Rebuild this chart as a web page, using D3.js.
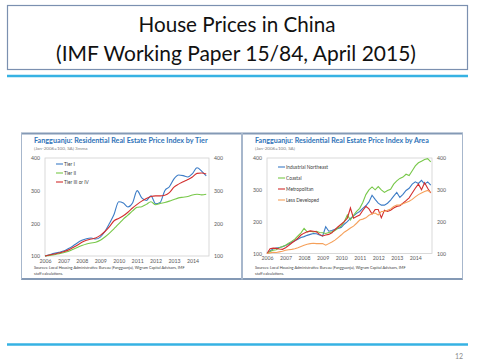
<!DOCTYPE html>
<html>
<head>
<meta charset="utf-8">
<script src="https://cdn.jsdelivr.net/npm/d3@7"></script>
<style>
  body { margin: 0; background: #fff; }
  svg { display: block; }
</style>
</head>
<body>
<div id="chart-area"></div>
<script>
// values
const years = [2006, 2007, 2008, 2009, 2010, 2011, 2012, 2013, 2014];
const yTicks = [100, 200, 300, 400];

// by tier: quarterly, starting Jan 2006
const tierStart = 2006;
const tierStep = 0.25;
const tierNames = ['Tier I', 'Tier II', 'Tier III or IV'];
const tier1 = [100, 104, 108, 111, 115, 122, 130, 140, 148, 153, 155, 152,
  158, 175, 200, 228, 266, 262, 250, 262, 300, 278, 270, 284,
  260, 264, 300, 312, 336, 348, 346, 342, 352, 370, 360, 345];
const tier2 = [100, 102, 104, 107, 110, 114, 120, 126, 132, 137, 140, 142,
  148, 158, 170, 184, 198, 213, 225, 238, 249, 251, 258, 266,
  257, 261, 264, 268, 273, 278, 280, 282, 287, 289, 287, 289];
const tier3 = [100, 103, 106, 109, 113, 118, 125, 133, 142, 148, 152, 155,
  163, 175, 190, 208, 215, 223, 234, 247, 258, 268, 276, 282,
  284, 284, 286, 294, 311, 320, 327, 334, 342, 353, 354, 351];

// by area: every two months, starting Jan 2006
const areaStart = 2006;
const areaStep = 1 / 6;
const areaNames = ['Industrial Northeast', 'Coastal', 'Metropolitan', 'Less Developed'];
const northeast = [100, 108, 115, 117, 119, 121, 125, 130, 135, 140, 145, 150,
  153, 157, 160, 163, 162, 158, 155, 184, 170, 172, 176, 179,
  182, 192, 200, 210, 218, 226, 232, 242, 250, 262, 283, 270,
  258, 252, 252, 258, 268, 280, 292, 276, 286, 298, 305, 318,
  325, 320, 330, 318, 325, 315];
const coastal = [100, 106, 110, 112, 118, 122, 126, 132, 138, 145, 155, 165,
  179, 168, 170, 168, 170, 166, 165, 163, 166, 168, 172, 180,
  186, 200, 221, 205, 220, 232, 242, 260, 285, 300, 309, 300,
  310, 300, 292, 298, 302, 318, 328, 336, 340, 349, 345, 360,
  375, 385, 390, 395, 398, 388];
const metro = [100, 115, 117, 116, 114, 113, 118, 125, 133, 140, 148, 158,
  164, 168, 171, 170, 168, 160, 155, 158, 160, 165, 175, 184,
  192, 200, 211, 243, 211, 216, 221, 235, 248, 240, 224, 238,
  238, 212, 236, 232, 236, 243, 248, 250, 258, 266, 275, 290,
  305, 318, 300, 322, 305, 290];
const lessDev = [100, 102, 104, 103, 105, 107, 110, 112, 113, 115, 118, 122,
  126, 129, 131, 132, 131, 131, 131, 126, 131, 136, 142, 150,
  158, 167, 173, 180, 186, 195, 205, 208, 212, 220, 225, 227,
  221, 232, 232, 236, 240, 248, 252, 253, 256, 260, 264, 270,
  278, 285, 290, 295, 298, 292];

const blue = '#3c7cc6';
const green = '#78c84a';
const red = '#d22f2f';
const orange = '#f5a05a';
const font = 'Lato, "Open Sans", sans-serif';

const svg = d3.select('#chart-area')
  .append('svg')
  .attr('width', 480)
  .attr('height', 363);

// squeeze a text to a given width
const fitText = (sel, width) => {
  const len = sel.node().getComputedTextLength();
  const size = parseFloat(sel.attr('font-size'));
  sel.attr('font-size', size * width / len);
};

// slide title
svg.append('rect')
  .attr('x', 7.5).attr('y', 5.5)
  .attr('width', 460).attr('height', 64)
  .attr('fill', 'none')
  .attr('stroke', '#7b90b0')
  .attr('stroke-width', 1.2);

fitText(svg.append('text')
  .attr('x', 237).attr('y', 32)
  .attr('text-anchor', 'middle')
  .attr('font-family', font).attr('font-size', 21)
  .attr('fill', '#111')
  .text('House Prices in China'), 197);

fitText(svg.append('text')
  .attr('x', 236).attr('y', 61)
  .attr('text-anchor', 'middle')
  .attr('font-family', font).attr('font-size', 21)
  .attr('fill', '#111')
  .text('(IMF Working Paper 15/84, April 2015)'), 360);

[76, 344.5].forEach((y) => {
  svg.append('line')
    .attr('x1', 7).attr('x2', 468)
    .attr('y1', y).attr('y2', y)
    .attr('stroke', '#36b2e3')
    .attr('stroke-width', 2.5);
});

svg.append('text')
  .attr('x', 459).attr('y', 359)
  .attr('text-anchor', 'middle')
  .attr('font-family', font).attr('font-size', 7)
  .attr('fill', '#8c8c8c')
  .text('12');

const drawChart = (c) => {
  const g = svg.append('g');

  // frame
  g.append('line')
    .attr('x1', c.left).attr('x2', c.right)
    .attr('y1', 133.5).attr('y2', 133.5)
    .attr('stroke', '#8499b5').attr('stroke-width', 2);
  g.append('line')
    .attr('x1', c.left).attr('x2', c.right)
    .attr('y1', 279).attr('y2', 279)
    .attr('stroke', '#8499b5').attr('stroke-width', 2);
  [c.left + 0.5, c.right - 0.5].forEach((x) => {
    g.append('line')
      .attr('x1', x).attr('x2', x)
      .attr('y1', 133).attr('y2', 279.5)
      .attr('stroke', '#a7b7cc').attr('stroke-width', 1);
  });

  fitText(g.append('text')
    .attr('x', c.textX).attr('y', 143)
    .attr('font-family', font).attr('font-size', 6.5)
    .attr('font-weight', 'bold')
    .attr('fill', '#2f73b8')
    .text(c.title), 174);

  g.append('text')
    .attr('x', c.textX).attr('y', 150)
    .attr('font-family', font).attr('font-size', 4.6)
    .attr('fill', '#7f7f7f')
    .text(c.subtitle);

  const x = d3.scaleLinear()
    .domain([2006, 2014.9])
    .range([c.plotLeft, c.plotRight]);

  const y = d3.scaleLinear()
    .domain([100, 400])
    .range([c.plotBottom, c.plotTop]);

  g.append('rect')
    .attr('x', c.plotLeft).attr('y', c.plotTop)
    .attr('width', c.plotRight - c.plotLeft)
    .attr('height', c.plotBottom - c.plotTop)
    .attr('fill', 'none')
    .attr('stroke', '#d0d0d0')
    .attr('stroke-width', 0.8);

  const styleAxis = (a) => {
    a.select('.domain').remove();
    a.selectAll('text')
      .attr('font-family', font)
      .attr('font-size', 5.2)
      .attr('fill', '#595959');
  };

  g.append('g')
    .attr('transform', 'translate(' + c.plotLeft + ', 0)')
    .call(d3.axisLeft(y).tickValues(yTicks).tickSize(0).tickPadding(5))
    .call(styleAxis);

  g.append('g')
    .attr('transform', 'translate(' + c.plotRight + ', 0)')
    .call(d3.axisRight(y).tickValues(yTicks).tickSize(0).tickPadding(5))
    .call(styleAxis);

  g.append('g')
    .attr('transform', 'translate(0, ' + c.plotBottom + ')')
    .call(d3.axisBottom(x).tickValues(years).tickFormat(d3.format('d')).tickSize(0).tickPadding(3))
    .call(styleAxis);

  const line = d3.line()
    .x((d, i) => x(c.start + i * c.step))
    .y((d) => y(d))
    .curve(c.curve);

  g.selectAll('path.series')
    .data(c.series)
    .enter()
    .append('path')
    .attr('class', 'series')
    .attr('d', (s) => line(s.values))
    .attr('fill', 'none')
    .attr('stroke', (s) => s.color)
    .attr('stroke-width', 1.1);

  const legend = g.selectAll('g.legend')
    .data(c.series)
    .enter()
    .append('g')
    .attr('class', 'legend')
    .attr('transform', (s, i) => 'translate(' + c.legendX + ', ' + (c.legendY + i * c.legendStep) + ')');

  legend.append('line')
    .attr('x1', 0).attr('x2', 7)
    .attr('stroke', (s) => s.color)
    .attr('stroke-width', 1.1);

  legend.append('text')
    .attr('x', 8).attr('dy', '0.35em')
    .attr('font-family', font).attr('font-size', 4.8)
    .attr('fill', '#404040')
    .text((s) => s.name);

  const source = g.append('text')
    .attr('font-family', font).attr('font-size', 4.5)
    .attr('fill', '#404040');
  source.append('tspan')
    .attr('x', c.textX).attr('y', 269)
    .text('Sources: Local Housing Administrative Bureau (Fangguanju), Wigram Capital Advisors, IMF');
  source.append('tspan')
    .attr('x', c.textX).attr('y', 275)
    .text('staff calculations.');
  fitText(source, 180);
};

drawChart({
  left: 21, right: 242,
  textX: 34,
  plotLeft: 45, plotRight: 209, plotTop: 158, plotBottom: 256,
  title: 'Fangguanju: Residential Real Estate Price Index by Tier',
  subtitle: '(Jan-2006=100, SA) 3mma',
  start: tierStart, step: tierStep,
  curve: d3.curveMonotoneX,
  legendX: 56, legendY: 164, legendStep: 9,
  series: [
    { name: tierNames[0], color: blue, values: tier1 },
    { name: tierNames[1], color: green, values: tier2 },
    { name: tierNames[2], color: red, values: tier3 }
  ]
});

drawChart({
  left: 242, right: 463,
  textX: 255,
  plotLeft: 267, plotRight: 432, plotTop: 158, plotBottom: 253.5,
  title: 'Fangguanju: Residential Real Estate Price Index by Area',
  subtitle: '(Jan-2006=100, SA)',
  start: areaStart, step: areaStep,
  curve: d3.curveLinear,
  legendX: 278, legendY: 167, legendStep: 11,
  series: [
    { name: areaNames[0], color: blue, values: northeast },
    { name: areaNames[1], color: green, values: coastal },
    { name: areaNames[2], color: red, values: metro },
    { name: areaNames[3], color: orange, values: lessDev }
  ]
});
</script>
</body>
</html>
